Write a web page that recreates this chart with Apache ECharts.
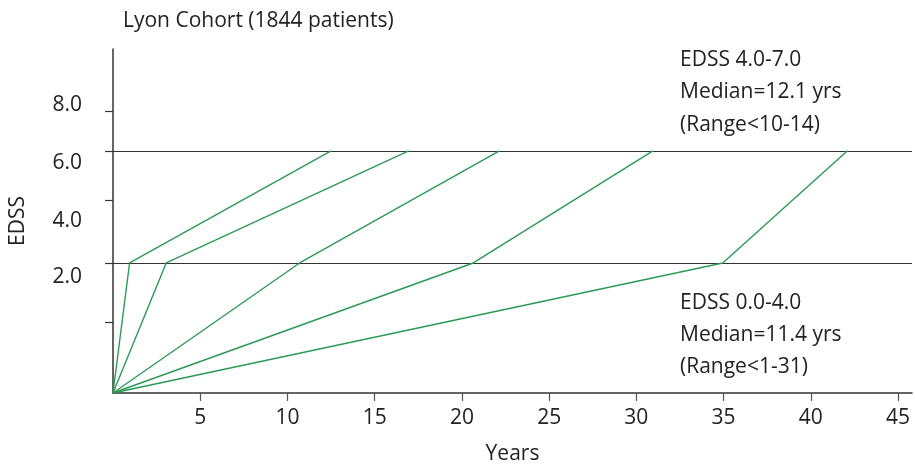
<!DOCTYPE html>
<html>
<head>
<meta charset="utf-8">
<style>html,body{margin:0;padding:0;background:#fff}#c{width:915px;height:470px}</style>
<script src="https://cdn.jsdelivr.net/npm/echarts@6/dist/echarts.min.js"></script>
</head>
<body>
<div id="c"></div>
<script>
// Schematic vertical scale (abstract units, 0..10)
const lowThreshold = 3.78;   // EDSS 4.0 boundary line
const highThreshold = 7.04;  // EDSS 7.0 boundary line
// Years at which each illustrative patient reaches the lower and upper thresholds
const onsetYears = [0.95, 3.05, 10.7, 20.65, 34.95];
const reachYears = [12.5, 16.95, 22.15, 30.95, 42.1];
// Axis ticks / labels
const xTickValues = [5, 10, 15, 20, 25, 30, 35, 40, 45];
const yTickValues = [2.05, 3.78, 5.61, 7.04, 8.18];
const yLabelValues = [3.36, 5.01, 6.70, 8.38];
const yLabelTexts = ['2.0', '4.0', '6.0', '8.0'];
const annotationHigh = ['EDSS 4.0-7.0', 'Median=12.1 yrs', '(Range<10-14)'];
const annotationLow = ['EDSS 0.0-4.0', 'Median=11.4 yrs', '(Range<1-31)'];

const FONT = '"Open Sans", "Noto Sans", sans-serif';
const FS = 21;
const GREEN = '#2b9a55';
const chart = echarts.init(document.getElementById('c'), null, {renderer: 'canvas'});

const series = onsetYears.map((t1, i) => ({
  type: 'line',
  data: [[0, 0], [t1, lowThreshold], [reachYears[i], highThreshold]],
  showSymbol: false,
  symbol: 'none',
  silent: true,
  lineStyle: {color: GREEN, width: 1.4},
  z: 3,
  markLine: i === 0 ? {
    silent: true,
    symbol: 'none',
    label: {show: false},
    lineStyle: {color: '#333', type: 'solid', width: 1.2},
    data: [{yAxis: lowThreshold}, {yAxis: highThreshold}],
    z: 2
  } : undefined
}));

function textBlock(lines, x, y0, step) {
  return lines.map((s, k) => ({
    type: 'text', x: x, y: y0 + k * step,
    style: {text: s, font: FS + 'px ' + FONT, fill: '#222', textVerticalAlign: 'middle', textAlign: 'left'}
  }));
}

chart.setOption({
  animation: false,
  grid: {left: 110, top: 49, right: 3, bottom: 70},
  xAxis: {
    type: 'value', min: 0, max: 45.8, interval: 5,
    name: 'Years', nameLocation: 'middle', nameGap: 51,
    nameTextStyle: {fontFamily: FONT, fontSize: FS, color: '#222'},
    axisLine: {show: true, lineStyle: {color: '#333', width: 1.5}},
    axisTick: {show: true, length: 8, lineStyle: {color: '#555', width: 1.2}, customValues: xTickValues},
    axisLabel: {fontFamily: FONT, fontSize: FS, color: '#222', margin: 15, customValues: xTickValues,
      formatter: v => (xTickValues.indexOf(v) >= 0 ? String(v) : '')},
    splitLine: {show: false}
  },
  yAxis: {
    type: 'value', min: 0, max: 10,
    name: 'EDSS', nameLocation: 'middle', nameGap: 84, nameRotate: 90,
    nameTextStyle: {fontFamily: FONT, fontSize: FS, color: '#222'},
    axisLine: {show: true, lineStyle: {color: '#333', width: 1.5}},
    axisTick: {show: true, length: 8, lineStyle: {color: '#333', width: 1.2}, customValues: yTickValues},
    axisLabel: {fontFamily: FONT, fontSize: FS, color: '#222', margin: 31, customValues: yLabelValues,
      formatter: v => { const k = yLabelValues.indexOf(v); return k >= 0 ? yLabelTexts[k] : ''; }},
    splitLine: {show: false}
  },
  graphic: [
    {type: 'text', x: 123, y: 21,
      style: {text: 'Lyon Cohort (1844 patients)', font: FS + 'px ' + FONT, fill: '#222', textVerticalAlign: 'middle'}}
  ].concat(textBlock(annotationHigh, 680, 60, 32.5)).concat(textBlock(annotationLow, 680, 303, 32)),
  series: series
});
</script>
</body>
</html>
